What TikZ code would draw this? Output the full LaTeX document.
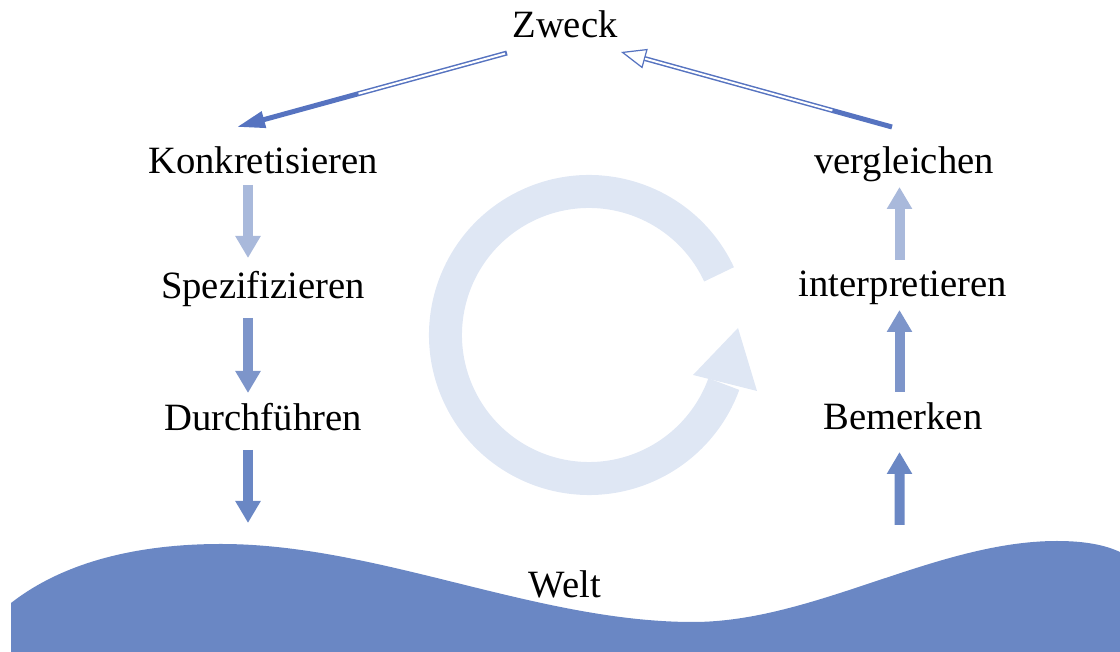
\documentclass[tikz,border=0pt]{standalone}
\usepackage{fontspec}
\setmainfont{Liberation Serif}
\usetikzlibrary{arrows.meta,calc}
\definecolor{welt}{HTML}{6A87C4}
\definecolor{hell}{HTML}{A9B9DB}
\definecolor{mittel}{HTML}{7D95CA}
\definecolor{kreis}{HTML}{DFE7F4}
\definecolor{linie}{HTML}{5673C0}
\begin{document}
\begin{tikzpicture}[x=0.02cm, y=0.02cm,
    lbl/.style={anchor=base, font=\fontsize{22}{26}\selectfont},
    blk/.style={line width=0.2cm, -{Triangle[width=0.48cm,length=0.44cm]}},
    zarrow/.style={linie, line width=0.1cm}]
    \useasboundingbox (0,0) rectangle (1120,652);
    \coordinate (ctr) at (589,317);
    \draw[kreis, line width=0.66cm] ([shift={(25:143.5)}]ctr) arc[start angle=25, end angle=340, radius=143.5];
    \fill[kreis] (693,277) -- (738,324) -- (757,261) -- cycle;
    \fill[welt] (11,49) .. controls (70,95) and (150,108) .. (221,108)
        .. controls (378,108) and (536,30) .. (693,30)
        .. controls (814,30) and (936,111) .. (1057,111)
        .. controls (1085,111) and (1105,107) .. (1120,100) -- (1120,0) -- (11,0) -- cycle;
    \node[lbl] (zweck) at (565,614) {Zweck};
    \node[lbl] (konk) at (263,478) {Konkretisieren};
    \node[lbl] (spez) at (263,353) {Spezifizieren};
    \node[lbl] (durch) at (263,221) {Durchführen};
    \node[lbl] (vergl) at (904,478) {vergleichen};
    \node[lbl] (interp) at (903,355) {interpretieren};
    \node[lbl] (bem) at (903,222) {Bemerken};
    \node[lbl] (welt) at (565,54) {Welt};
    \coordinate (zl) at ([shift={(-58,-15)}]zweck.base);
    \coordinate (kl) at ([shift={(-26,47)}]konk.base);
    \coordinate (vr) at ([shift={(-12,47)}]vergl.base);
    \coordinate (zr) at ([shift={(56,-14)}]zweck.base);
    \draw[zarrow, -{Triangle[width=0.32cm,length=0.56cm]}] (zl) -- (kl);
    \draw[white, line width=0.04cm, shorten <=0.04cm] (zl) -- ($(zl)!0.55!(kl)$);
    \draw[zarrow, -{Triangle[open, width=0.4cm, length=0.5cm, line width=0.7pt]}] (vr) -- (zr);
    \draw[white, line width=0.04cm, shorten >=0.5cm] ($(vr)!0.22!(zr)$) -- (zr);
    \draw[blk, hell] ([shift={(-15,-11)}]konk.base) -- ([shift={(-15,41)}]spez.base);
    \draw[blk, mittel] ([shift={(-15,-19)}]spez.base) -- ([shift={(-15,38)}]durch.base);
    \coordinate (lend) at (248,129);
    \draw[blk, welt] ([shift={(-15,-19)}]durch.base) -- (lend);
    \draw[blk, hell] ([shift={(-3.5,37)}]interp.base) -- ([shift={(-4.5,-13)}]vergl.base);
    \draw[blk, mittel] ([shift={(-3.5,38)}]bem.base) -- ([shift={(-3.5,-13)}]interp.base);
    \coordinate (rstart) at (899.5,127);
    \draw[blk, welt] (rstart) -- ([shift={(-3.5,-22)}]bem.base);
\end{tikzpicture}
\end{document}
